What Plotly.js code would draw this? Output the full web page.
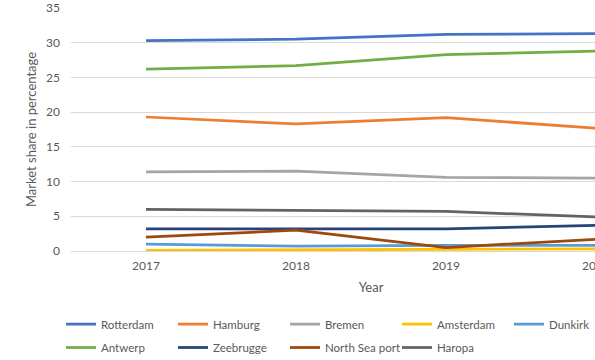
<!DOCTYPE html>
<html>
<head>
<meta charset="utf-8">
<script src="https://cdn.plot.ly/plotly-3.0.1.min.js"></script>
<style>
  html, body { margin: 0; padding: 0; overflow: hidden; background: #fff; }
  #chart { width: 680px; height: 360px; }
</style>
</head>
<body>
<div id="chart"></div>
<script>
// Market share of North-Range container ports, 2017-2020 (%)
const years = [2017, 2018, 2019, 2020];

const rotterdam    = [30.3, 30.5, 31.2, 31.3];
const hamburg      = [19.3, 18.3, 19.2, 17.7];
const bremen       = [11.4, 11.5, 10.6, 10.5];
const amsterdam    = [0.1, 0.2, 0.3, 0.3];
const dunkirk      = [1.0, 0.7, 0.8, 0.8];
const antwerp      = [26.2, 26.7, 28.3, 28.8];
const zeebrugge    = [3.2, 3.2, 3.2, 3.7];
const northSeaPort = [2.0, 3.0, 0.5, 1.7];
const haropa       = [6.0, 5.85, 5.7, 4.9];

const yTicks = [0, 5, 10, 15, 20, 25, 30, 35];

const seriesNames  = ['Rotterdam', 'Hamburg', 'Bremen', 'Amsterdam', 'Dunkirk',
                      'Antwerp', 'Zeebrugge', 'North Sea port', 'Haropa'];
const seriesValues = [rotterdam, hamburg, bremen, amsterdam, dunkirk,
                      antwerp, zeebrugge, northSeaPort, haropa];
const seriesColors = ['#4472C4', '#ED7D31', '#A5A5A5', '#FFC000', '#5B9BD5',
                      '#70AD47', '#264478', '#9E480E', '#636363'];

const textColor = '#595959';
const fontFamily = 'Lato, "Open Sans", sans-serif';
const font = { family: fontFamily, size: 12, color: textColor };
const legendFont = { family: fontFamily, size: 11.5, color: textColor };
const titleFont = { family: fontFamily, size: 13, color: textColor };

// first five series go in the upper legend row, the rest in the lower one
const traces = seriesNames.map((name, i) => ({
  type: 'scatter',
  mode: 'lines',
  name: name,
  x: years,
  y: seriesValues[i],
  line: { color: seriesColors[i], width: 2.75 },
  legend: i < 5 ? 'legend' : 'legend2',
  hoverinfo: 'skip'
}));

const legendBase = {
  orientation: 'h',
  xref: 'container', yref: 'container',
  x: 61 / 680, xanchor: 'left',
  yanchor: 'middle',
  entrywidth: 67, entrywidthmode: 'pixels',
  font: legendFont,
  bgcolor: 'rgba(0,0,0,0)',
  borderwidth: 0,
  itemclick: false, itemdoubleclick: false
};

const layout = {
  width: 680,
  height: 360,
  margin: { l: 71, r: 9, t: 8, b: 109 },
  paper_bgcolor: '#ffffff',
  plot_bgcolor: '#ffffff',
  font: font,
  showlegend: true,
  legend: Object.assign({}, legendBase, { y: (360 - 324) / 360 }),
  legend2: Object.assign({}, legendBase, { y: (360 - 347.5) / 360 }),
  xaxis: {
    range: [2016.5, 2020.5],
    tickvals: years,
    ticktext: years.map(String),
    showgrid: false,
    zeroline: false,
    showline: false,
    ticks: '',
    ticklabelstandoff: 6,
    tickfont: font,
    title: { text: 'Year', font: titleFont, standoff: 10 },
    fixedrange: true
  },
  yaxis: {
    range: [0, 35],
    tickvals: yTicks,
    showgrid: true,
    gridcolor: '#D9D9D9',
    gridwidth: 1,
    zeroline: true,
    zerolinecolor: '#D9D9D9',
    zerolinewidth: 1,
    showline: false,
    ticks: '',
    ticklabelstandoff: 10,
    tickfont: font,
    title: { text: 'Market share in percentage', font: titleFont, standoff: 6 },
    fixedrange: true
  }
};

Plotly.newPlot('chart', traces, layout, { staticPlot: true, displayModeBar: false });
</script>
</body>
</html>
